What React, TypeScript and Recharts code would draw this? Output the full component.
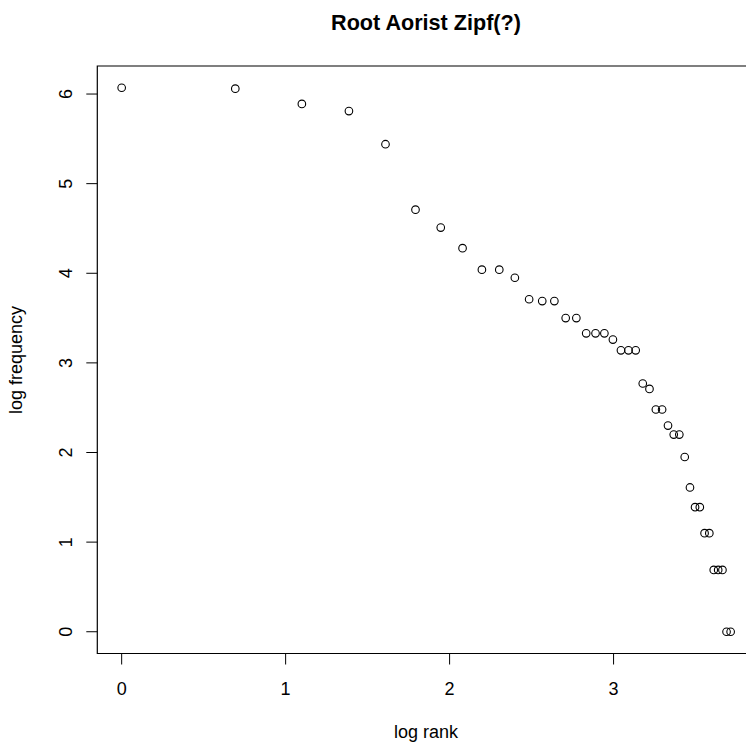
import { ScatterChart, Scatter, XAxis, YAxis, ReferenceArea } from 'recharts';

const FONT = '"Liberation Sans", Arial, Helvetica, sans-serif';

// log rank (x) and log frequency (y)
const logRank = [
  0, 0.693, 1.099, 1.386, 1.609, 1.792, 1.946, 2.079, 2.197, 2.303,
  2.398, 2.485, 2.565, 2.639, 2.708, 2.773, 2.833, 2.89, 2.944, 2.996,
  3.045, 3.091, 3.135, 3.178, 3.219, 3.258, 3.296, 3.332, 3.367, 3.401,
  3.434, 3.466, 3.497, 3.526, 3.555, 3.584, 3.611, 3.638, 3.664, 3.689,
  3.714,
];
const logFreq = [
  6.07, 6.06, 5.89, 5.81, 5.44, 4.71, 4.51, 4.28, 4.04, 4.04,
  3.95, 3.71, 3.69, 3.69, 3.5, 3.5, 3.33, 3.33, 3.33, 3.26,
  3.14, 3.14, 3.14, 2.77, 2.71, 2.48, 2.48, 2.3, 2.2, 2.2,
  1.95, 1.61, 1.39, 1.39, 1.1, 1.1, 0.69, 0.69, 0.69, 0,
  0,
];
const xTicks = [0, 1, 2, 3];
const yTicks = [0, 1, 2, 3, 4, 5, 6];
const xDomain = [-0.1486, 3.8626];
const yDomain = [-0.2428, 6.3128];

const data = logRank.map((x, i) => ({ x, y: logFreq[i] }));

const XTick = (props: any) => {
  const { x, y, payload } = props;
  return (
    <text x={x} y={y} dy={30.5} textAnchor="middle" fontSize={18} fontFamily={FONT} fill="#000">
      {payload.value}
    </text>
  );
};

const YTick = (props: any) => {
  const { x, y, payload } = props;
  const bx = x - 13.8;
  return (
    <text
      x={bx}
      y={y}
      transform={`rotate(-90, ${bx}, ${y})`}
      textAnchor="middle"
      fontSize={18}
      fontFamily={FONT}
      fill="#000"
    >
      {payload.value}
    </text>
  );
};

const Ring = (props: any) => (
  <circle cx={props.cx} cy={props.cy} r={3.8} fill="none" stroke="#000" strokeWidth={1.1} />
);

export default function App() {
  return (
    <div
      style={{
        position: 'absolute',
        left: 0,
        top: 0,
        width: 746,
        height: 749,
        overflow: 'hidden',
        background: '#fff',
      }}
    >
      <ScatterChart width={780} height={749} margin={{ top: 66, right: 25, bottom: 0, left: 0.3 }}>
        <XAxis
          type="number"
          dataKey="x"
          domain={xDomain}
          ticks={xTicks}
          allowDataOverflow
          height={95.5}
          axisLine={false}
          tickSize={11}
          tickMargin={0}
          tickLine={{ stroke: '#000', strokeWidth: 1 }}
          tick={<XTick />}
          interval={0}
        />
        <YAxis
          type="number"
          dataKey="y"
          domain={yDomain}
          ticks={yTicks}
          allowDataOverflow
          width={97}
          axisLine={false}
          tickSize={11}
          tickMargin={0}
          tickLine={{ stroke: '#000', strokeWidth: 1 }}
          tick={<YTick />}
          interval={0}
        />
        <ReferenceArea
          x1={xDomain[0]}
          x2={xDomain[1]}
          y1={yDomain[0]}
          y2={yDomain[1]}
          fill="none"
          fillOpacity={0}
          stroke="#000"
          strokeWidth={1.2}
        />
        <Scatter data={data} shape={<Ring />} isAnimationActive={false} />
      </ScatterChart>
      <svg
        width={746}
        height={749}
        style={{ position: 'absolute', left: 0, top: 0, pointerEvents: 'none' }}
      >
        <text x={426} y={30} textAnchor="middle" fontSize={21.6} fontWeight="bold" fontFamily={FONT} fill="#000">
          Root Aorist Zipf(?)
        </text>
        <text x={426} y={738} textAnchor="middle" fontSize={18} fontFamily={FONT} fill="#000">
          log rank
        </text>
        <text
          x={22}
          y={360}
          transform="rotate(-90, 22, 360)"
          textAnchor="middle"
          fontSize={18}
          fontFamily={FONT}
          fill="#000"
        >
          log frequency
        </text>
      </svg>
    </div>
  );
}
